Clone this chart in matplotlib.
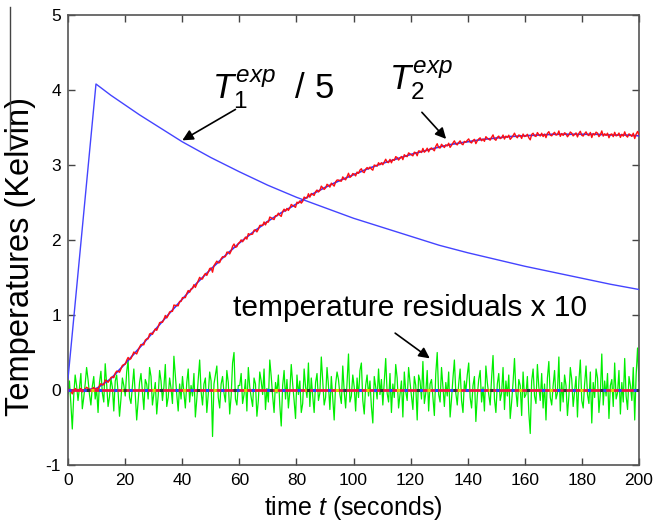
import numpy as np
import matplotlib
matplotlib.use("Agg")
import matplotlib.pyplot as plt

plt.rcParams['font.family'] = ['Liberation Sans', 'DejaVu Sans']
plt.rcParams['mathtext.fontset'] = 'custom'
plt.rcParams['mathtext.rm'] = 'Liberation Sans'
plt.rcParams['mathtext.it'] = 'Liberation Sans:italic'
plt.rcParams['axes.unicode_minus'] = False

# T1 / 5 (blue)
t1_time = [0, 9.8, 15, 20, 25, 30, 35, 40, 50, 60, 70, 80, 90, 100, 110, 120,
           130, 140, 150, 160, 170, 180, 190, 200]
t1_vals = [0.15, 4.08, 3.93, 3.80, 3.67, 3.55, 3.43, 3.31, 3.10, 2.91, 2.73, 2.57,
           2.43, 2.29, 2.17, 2.05, 1.93, 1.83, 1.74, 1.65, 1.57, 1.49, 1.41, 1.34]

# T2 fit (blue under red)
t2_time = list(range(0, 201, 5))
t2_fit = [0.00, 0.00, 0.02, 0.15, 0.35, 0.56, 0.78, 1.00, 1.21, 1.42, 1.61, 1.79,
          1.96, 2.11, 2.25, 2.37, 2.48, 2.60, 2.70, 2.79, 2.87, 2.95, 3.02, 3.08,
          3.14, 3.19, 3.24, 3.28, 3.31, 3.34, 3.36, 3.38, 3.39, 3.40, 3.41, 3.41,
          3.41, 3.41, 3.40, 3.40, 3.39]

# temperature residuals x 10 (hundredths)
residuals_x10 = [
    -5, 12, -18, -52, -8, 20, 6, -14, 3, 22, -25, -10, 8, 30, 14, -6, -20, 5, 18, -12,
    2, -30, 10, 25, -4, -16, 35, 8, -22, -9, 15, 4, -28, 12, 20, -3, -35, -12, 16, 6,
    -8, 24, 40, -10, -18, 5, 28, -6, -40, -15, 10, 22, -2, -26, 14, 8, -12, 30, 18, -20,
    -5, 10, -32, -8, 26, 12, -14, 4, 34, -22, -10, 16, 2, -18, 45, 20, -6, -28, 8, -12,
    18, -4, -24, 10, 28, -16, 6, -8, 22, -36, -12, 14, 40, -2, -20, 8, 16, -30, -6, 24,
    12, -62, 8, 20, 32, -10, -24, 8, 18, -4, -16, 26, 10, -32, -8, 36, 50, -12, -20, 6,
    6, 22, -18, -6, 14, -28, 30, 4, -10, -22, 16, 8, -35, -14, 24, 12, -6, 28, -26, 2,
    -16, 40, 18, -8, -30, 10, -4, 20, -20, -48, 6, 26, -12, 14, -24, -2, 34, 8, -14, -38,
    20, -6, 12, -30, -18, 28, 4, -10, 36, -22, 16, -8, -30, 10, 22, -14, -4, 44, 12, -20,
    -10, 30, 6, -26, 18, -12, -40, 8, 24, 14, -6, -18, 32, -2, -24, 10, 48, -16, -8, 20,
    4, -28, 16, -10, 26, 36, -14, -32, 6, 20, -8, 12, -22, -44, 18, 4, -12, 28, -6, 14,
    -20, 10, 42, -4, -16, 22, -30, 8, -10, 34, 16, -24, -6, 12, -36, 24, -2, -14, 30, 10,
    -8, -26, 18, 6, -40, 20, 12, -12, 38, -18, -4, 26, -28, 8, 14, -10, -34, 22, 50, -6,
    -16, 30, 4, -22, 10, -8, 24, -36, -12, 16, 40, -4, -20, 8, 28, -14, -30, 12, -2, 20,
    36, -10, -24, 6, 18, -42, -8, 14, 26, -16, 4, -28, 32, 10, -6, -20, 16, 46, -12, -30,
    8, 22, -14, -4, 30, -26, 12, -8, 20, -38, -16, 10, 42, -2, -22, 14, 6, -34, 24, -10,
    -6, 18, -30, -58, 12, 28, -8, -18, 34, 4, -14, 22, -24, 8, -40, 16, 38, -10, -20, 6,
    26, -12, -4, 44, -28, 10, -16, 20, 6, -34, -8, 30, 14, -22, -2, 18, -36, 12, 40, -14,
    -24, 8, 32, -6, -18, 24, -44, 10, -10, 28, 16, -30, -4, 48, -20, 12, -8, 22, -38, 6,
    14, -22, 36, -12, -4, 26, -32, 10, -16, 42, -8, -26, 18, 6, -14, 30, -40, 20, 56, 12,
]

x_ticks = list(range(0, 201, 20))
y_ticks = [-1, 0, 1, 2, 3, 4, 5]

res = np.array(residuals_x10) / 100.0
t_res = np.linspace(0, 200, len(res))
t2_exp = np.interp(t_res, t2_time, t2_fit) + res / 10.0

fig = plt.figure(figsize=(6.57, 5.22), dpi=100)
ax = fig.add_axes([68/657, 57/522, (639-68)/657, (465-15)/522])

ax.plot(t_res, res, color='#00ee00', lw=0.9, zorder=2)
ax.plot(t1_time, t1_vals, color='#4444ff', lw=1.0, zorder=3)
ax.plot(t2_time, t2_fit, color='#3333ff', lw=1.2, zorder=3)
ax.plot(t_res, t2_exp, color='#ff1010', lw=1.0, zorder=4)

# zero lines (overlapping dotted)
ax.plot([0, 200], [0, 0], color='#ee1144', lw=2.0, zorder=5)
ax.plot([0, 200], [0, 0], color='#2244ff', lw=2.2, ls=(0, (1, 4)), zorder=6)
ax.plot([0, 200], [0, 0], color='#ddcc00', lw=2.2, ls=(2.5, (1, 9)), zorder=6)
ax.plot([0, 200], [0, 0], color='#333333', lw=2.2, ls=(6, (1, 11)), zorder=6)

ax.set_xlim(0, 200)
ax.set_ylim(-1, 5)
ax.set_xticks(x_ticks)
ax.set_yticks(y_ticks)
ax.tick_params(direction='in', length=5, width=1, top=True, right=True,
               labelsize=12.5, colors='#444444', labelcolor='black')
ax.tick_params(axis='y', pad=5)
ax.tick_params(axis='x', pad=6)
for s in ax.spines.values():
    s.set_color('#555555')
    s.set_linewidth(1.2)

ax.set_xlabel('time $\\mathit{t}$ (seconds)', fontsize=18, labelpad=4)
ax.set_ylabel('Temperatures (Kelvin)', fontsize=23.5, va='center', ha='center')
ax.yaxis.set_label_coords(-0.084, 0.464)

ax.text(50.5, 3.87, '$T_1^{exp}$  / 5', fontsize=25, ha='left', va='baseline')
ax.annotate('', xy=(39.2, 3.31), xytext=(59.5, 3.76),
            arrowprops=dict(arrowstyle='-|>', color='black', lw=1.2, mutation_scale=16))
ax.text(112.5, 4.0, '$T_2^{exp}$', fontsize=25, ha='left', va='baseline')
ax.annotate('', xy=(133.1, 3.32), xytext=(123.3, 3.73),
            arrowprops=dict(arrowstyle='-|>', color='black', lw=1.2, mutation_scale=16))
ax.text(57.8, 1.09, 'temperature residuals x 10', fontsize=21.5, ha='left', va='center')
ax.annotate('', xy=(127.5, 0.40), xytext=(113.8, 0.78),
            arrowprops=dict(arrowstyle='-|>', color='black', lw=1.2, mutation_scale=16))

fig.add_artist(plt.Line2D([10/657, 10/657], [1 - 7/522, 1 - 150/522],
                          color='#444444', lw=1.0))

fig.savefig('out.png', dpi=100)
